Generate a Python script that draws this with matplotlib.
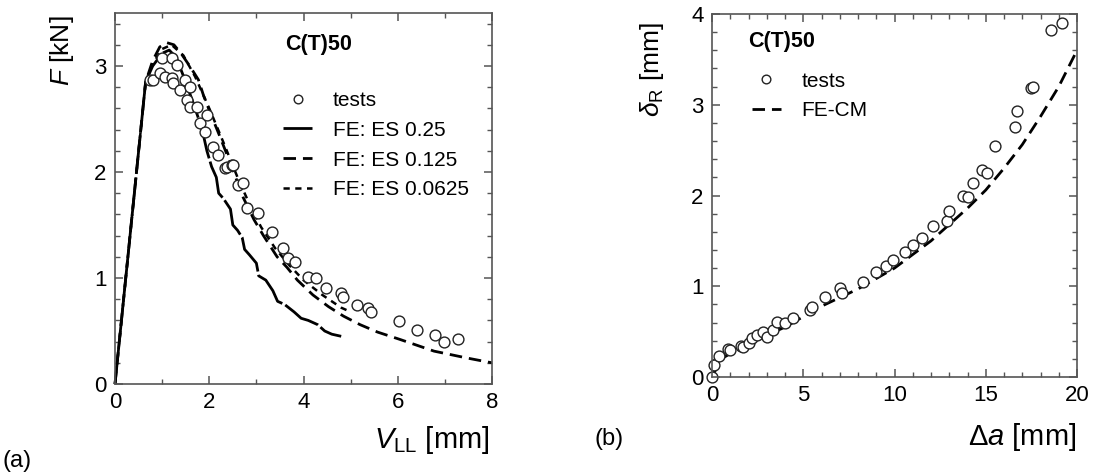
import numpy as np
import matplotlib
matplotlib.use("Agg")
from matplotlib import pyplot as plt
from matplotlib.ticker import MultipleLocator

plt.rcParams["font.family"] = "Liberation Sans"
plt.rcParams["mathtext.fontset"] = "custom"
plt.rcParams["mathtext.rm"] = "Liberation Sans"
plt.rcParams["mathtext.it"] = "Liberation Sans:italic"

# ---- (a) load vs. load-line displacement ----
test_v = [0.74, 0.81, 0.96, 1.06, 1.21, 1.0, 1.21, 1.32, 1.23, 1.38, 1.49, 1.6, 1.53,
          1.6, 1.74, 1.81, 1.96, 1.91, 2.09, 2.19, 2.34, 2.38, 2.49, 2.51, 2.62,
          2.72, 2.81, 3.04, 3.34, 3.57, 3.68, 3.83, 4.1, 4.26, 4.47, 4.79, 4.83,
          5.13, 5.36, 5.43, 6.02, 6.4, 6.8, 6.98, 7.27]
test_F = [2.87, 2.87, 2.93, 2.9, 2.89, 3.08, 3.08, 3.01, 2.84, 2.77, 2.87, 2.8, 2.68,
          2.61, 2.61, 2.46, 2.54, 2.38, 2.24, 2.16, 2.04, 2.05, 2.07, 2.07, 1.88,
          1.9, 1.66, 1.61, 1.43, 1.28, 1.19, 1.15, 1.01, 1.0, 0.91, 0.86, 0.82,
          0.75, 0.72, 0.68, 0.59, 0.51, 0.46, 0.4, 0.42]

es025_v = [0, 0.65, 0.8, 1.0, 1.15, 1.3, 1.5, 1.7, 1.85, 1.95, 2.05, 2.15, 2.2,
           2.3, 2.45, 2.5, 2.6, 2.7, 2.75, 2.85, 3.0, 3.05, 3.2, 3.35, 3.45, 3.6,
           3.8, 3.95, 4.1, 4.3, 4.45, 4.6, 4.8]
es025_F = [0, 2.85, 3.0, 3.12, 3.15, 3.08, 2.85, 2.6, 2.4, 2.2, 2.05, 1.95, 1.8,
           1.75, 1.65, 1.5, 1.45, 1.38, 1.27, 1.22, 1.14, 1.02, 0.98, 0.88, 0.78, 0.75,
           0.68, 0.62, 0.6, 0.56, 0.5, 0.47, 0.45]

es0125_v = [0, 0.65, 0.8, 0.95, 1.1, 1.25, 1.4, 1.6, 1.77, 1.88, 2.02, 2.23, 2.45,
            2.72, 2.95, 3.15, 3.44, 3.65, 3.87, 4.2, 4.53, 4.85, 5.2, 5.57, 6.05,
            6.77, 7.47, 8.0]
es0125_F = [0, 2.85, 3.05, 3.18, 3.22, 3.2, 3.12, 2.99, 2.87, 2.72, 2.56, 2.33, 2.08,
            1.76, 1.55, 1.4, 1.2, 1.1, 0.98, 0.84, 0.73, 0.64, 0.56, 0.49, 0.42,
            0.31, 0.245, 0.2]

es00625_v = [0, 0.65, 0.8, 1.0, 1.2, 1.45, 1.7, 2.0, 2.3, 2.6, 2.85, 3.1, 3.4, 3.7,
             4.0, 4.4, 4.8, 5.0]
es00625_F = [0, 2.85, 3.02, 3.16, 3.2, 3.1, 2.9, 2.6, 2.28, 1.95, 1.7, 1.48, 1.28,
             1.12, 0.98, 0.84, 0.72, 0.68]

# ---- (b) delta_R vs. crack extension ----
da_test = [0.0, 0.1, 0.4, 0.9, 1.0, 1.6, 1.7, 2.0, 2.2, 2.45, 2.8, 3.0, 3.35, 3.55,
           4.0, 4.45, 5.35, 5.5, 6.2, 7.0, 7.15, 8.3, 9.0, 9.55, 9.9, 10.6, 11.0,
           11.5, 12.1, 12.9, 13.0, 13.75, 14.0, 14.3, 14.8, 15.05, 15.5, 16.6,
           16.7, 17.5, 17.6, 18.6, 19.2]
dR_test = [0.0, 0.13, 0.23, 0.31, 0.3, 0.34, 0.33, 0.38, 0.43, 0.46, 0.5, 0.44, 0.52,
           0.61, 0.59, 0.65, 0.74, 0.77, 0.88, 0.98, 0.93, 1.05, 1.16, 1.22, 1.29,
           1.38, 1.45, 1.53, 1.66, 1.72, 1.83, 1.99, 1.98, 2.14, 2.28, 2.25, 2.55,
           2.76, 2.93, 3.18, 3.2, 3.82, 3.9]

da_fe = [0, 0.5, 2, 4, 6, 8, 10, 12, 13, 14, 15, 16, 17, 18, 19, 20]
dR_fe = [0, 0.2, 0.37, 0.55, 0.78, 0.97, 1.2, 1.5, 1.68, 1.86, 2.06, 2.3, 2.56, 2.87,
         3.2, 3.6]

fig = plt.figure(figsize=(10.96, 4.74), dpi=100)
axa = fig.add_axes([115 / 1096, 90 / 474, 377 / 1096, 371 / 474])
axb = fig.add_axes([712 / 1096, 97 / 474, 365 / 1096, 363 / 474])

mk = dict(ls="none", marker="o", ms=7.8, mfc="white", mec="#222222", mew=1.0)
leg_kw = dict(loc="upper left", frameon=False, fontsize=15, handlelength=1.4,
              handletextpad=1.0, labelspacing=0.52, borderpad=0, markerscale=0.8)

axa.plot(es025_v, es025_F, color="black", lw=2.0, dashes=(14, 1.2), label="FE: ES 0.25")
axa.plot(es0125_v, es0125_F, color="black", lw=2.0, dashes=(4.5, 2.5), label="FE: ES 0.125")
axa.plot(es00625_v, es00625_F, color="black", lw=1.8, dashes=(2.5, 2.2), label="FE: ES 0.0625")
axa.plot(test_v, test_F, label="tests", **mk)

axa.set_xlim(0, 8)
axa.set_ylim(0, 3.5)
axa.xaxis.set_major_locator(MultipleLocator(2))
axa.xaxis.set_minor_locator(MultipleLocator(1))
axa.yaxis.set_major_locator(MultipleLocator(1))
axa.yaxis.set_minor_locator(MultipleLocator(0.2))
h, l = axa.get_legend_handles_labels()
axa.legend([h[3], h[0], h[1], h[2]], [l[3], l[0], l[1], l[2]],
           bbox_to_anchor=(0.418, 0.818), **leg_kw)
axa.text(0.45, 0.914, "C(T)50", transform=axa.transAxes, fontsize=15.5,
         fontweight="bold", va="center", ha="left")

axb.plot(da_fe, dR_fe, color="black", lw=2.0, dashes=(4.5, 2.5), label="FE-CM")
axb.plot(da_test, dR_test, label="tests", **mk)
axb.set_xlim(0, 20)
axb.set_ylim(0, 4)
axb.xaxis.set_major_locator(MultipleLocator(5))
axb.xaxis.set_minor_locator(MultipleLocator(1))
axb.yaxis.set_major_locator(MultipleLocator(1))
axb.yaxis.set_minor_locator(MultipleLocator(0.2))
h, l = axb.get_legend_handles_labels()
axb.legend([h[1], h[0]], [l[1], l[0]], bbox_to_anchor=(0.08, 0.87), **leg_kw)
axb.text(0.099, 0.923, "C(T)50", transform=axb.transAxes, fontsize=15.5,
         fontweight="bold", va="center", ha="left")

for ax in (axa, axb):
    for s in ax.spines.values():
        s.set_color("#555555")
        s.set_linewidth(1.2)
    ax.tick_params(which="both", direction="in", top=True, right=True,
                   color="#555555", labelsize=16)
    ax.tick_params(which="major", length=6, width=1.1, pad=6)
    ax.tick_params(which="minor", length=3.5, width=1.0)
    for ln in ax.lines:
        ln.set_clip_on(False)

fig.text(62 / 1096, 1 - 51 / 474, "$F$ [kN]", rotation=90, fontsize=19,
         ha="center", va="center")
fig.text(490 / 1096, 1 - 440 / 474, "$V_{\\mathrm{LL}}$ [mm]", fontsize=21,
         ha="right", va="center")
fig.text(652 / 1096, 1 - 70 / 474, "$\\delta_{\\mathrm{R}}$ [mm]", rotation=90,
         fontsize=19, ha="center", va="center")
fig.text(1076 / 1096, 1 - 437 / 474, "\u0394$a$ [mm]", fontsize=21,
         ha="right", va="center")
fig.text(3 / 1096, 1 - 461 / 474, "(a)", fontsize=17, ha="left", va="center")
fig.text(595 / 1096, 1 - 439 / 474, "(b)", fontsize=17, ha="left", va="center")

fig.savefig("out.png", dpi=100)
